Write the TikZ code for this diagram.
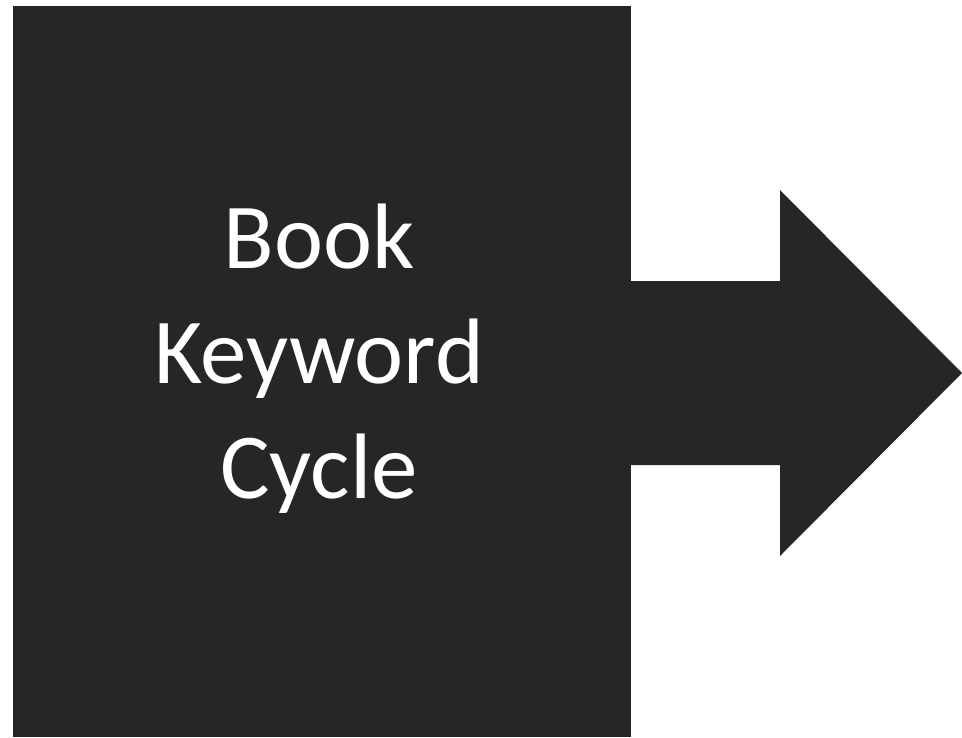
\documentclass[tikz,border=0pt]{standalone}
\usepackage{fontspec}
\setmainfont{Carlito}
\definecolor{boxgray}{HTML}{262626}
\begin{document}
\begin{tikzpicture}[x=1pt,y=-1pt,
  block/.style={fill=boxgray,draw=none,inner sep=0pt,outer sep=0pt,rectangle},
  label/.style={text=white,inner sep=0pt,anchor=base,font=\fontsize{93}{115}\selectfont}]
\useasboundingbox (0,0) rectangle (962,737);
\node[block,minimum width=618pt,minimum height=731pt,anchor=north west] (sq) at (13,6) {};
\fill[boxgray] (630,281) -- (780,281) -- (780,190) -- (962,373) -- (780,556) -- (780,465) -- (630,465) -- cycle;
\node[label] (l1) at (319,268) {Book};
\node[label] (l2) at (319,383) {Keyword};
\node[label] (l3) at (319,498) {Cycle};
\end{tikzpicture}
\end{document}
